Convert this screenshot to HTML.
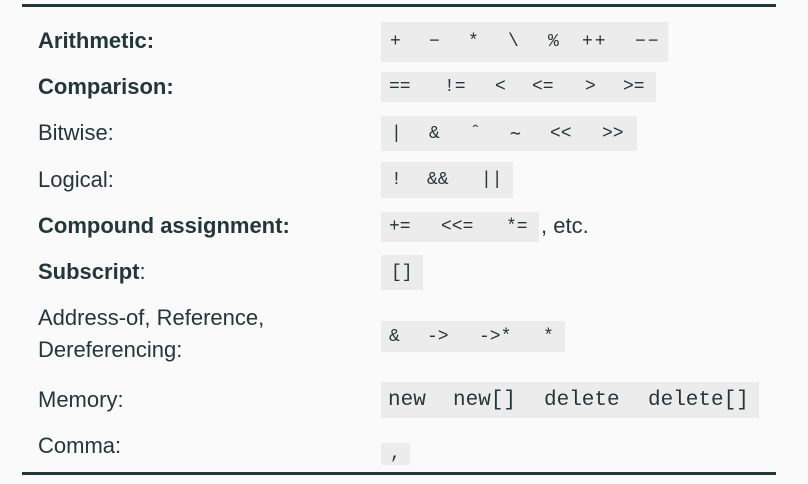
<!DOCTYPE html>
<html><head><meta charset="utf-8"><style>
body{margin:0;width:808px;height:484px;background:#fafafa;position:relative;overflow:hidden;font-family:"Liberation Sans",sans-serif;color:#23373b}
.rule{position:absolute;left:22px;width:754px;height:3px;background:#23373b}
.l{position:absolute;left:38px;font-size:22px;line-height:26px;white-space:nowrap}
.b{font-weight:bold}
.box{position:absolute;left:381px;background:#ececec;font-family:"Liberation Mono","DejaVu Sans Mono",monospace;font-size:18px;white-space:pre}
.box span{position:absolute;top:0;bottom:0;display:flex;align-items:center}
.etc{position:absolute;font-size:22px;line-height:26px}
</style></head><body>
<div class="rule" style="top:4px"></div>
<div class="rule" style="top:472px"></div>

<div class="l b" style="top:28px">Arithmetic:</div>
<div class="l b" style="top:74px">Comparison:</div>
<div class="l" style="top:120px">Bitwise:</div>
<div class="l" style="top:167px">Logical:</div>
<div class="l b" style="top:213px">Compound assignment:</div>
<div class="l" style="top:259px"><b>Subscript</b>:</div>
<div class="l" style="top:305px">Address-of, Reference,</div>
<div class="l" style="top:337px">Dereferencing:</div>
<div class="l" style="top:387px">Memory:</div>
<div class="l" style="top:433px">Comma:</div>

<div class="box" style="top:22px;height:40px;width:287px">
<span style="left:9px">+</span><span style="left:48px">−</span><span style="left:87px">*</span><span style="left:127px">\</span><span style="left:167px">%</span><span style="left:201px;letter-spacing:2px">++</span><span style="left:254px;letter-spacing:2px">−−</span></div>
<div class="box" style="top:72px;height:30px;width:275px">
<span style="left:8px">==</span><span style="left:63px">!=</span><span style="left:114px">&lt;</span><span style="left:151px">&lt;=</span><span style="left:204px">&gt;</span><span style="left:242px">&gt;=</span></div>
<div class="box" style="top:116px;height:35px;width:256px">
<span style="left:10px">|</span><span style="left:48px">&amp;</span><span style="left:89px">ˆ</span><span style="left:129px">∼</span><span style="left:169px">&lt;&lt;</span><span style="left:221px">&gt;&gt;</span></div>
<div class="box" style="top:162px;height:36px;width:132px">
<span style="left:10px">!</span><span style="left:46px">&amp;&amp;</span><span style="left:100px">||</span></div>
<div class="box" style="top:212px;height:30px;width:158px">
<span style="left:8px">+=</span><span style="left:60px">&lt;&lt;=</span><span style="left:125px">*=</span></div>
<div class="etc" style="left:541px;top:213px">, etc.</div>
<div class="box" style="top:255px;height:35px;width:42px"><span style="left:10px">[]</span></div>
<div class="box" style="top:321px;height:31px;width:184px">
<span style="left:8px">&amp;</span><span style="left:46px">-&gt;</span><span style="left:98px">-&gt;*</span><span style="left:162px">*</span></div>
<div class="box" style="top:382px;height:36px;width:378px;font-size:21px">
<span style="left:7px">new</span><span style="left:72px">new[]</span><span style="left:163px">delete</span><span style="left:267px">delete[]</span></div>
<div class="box" style="top:443px;height:22px;width:29px"><span style="left:9px">,</span></div>
</body></html>
